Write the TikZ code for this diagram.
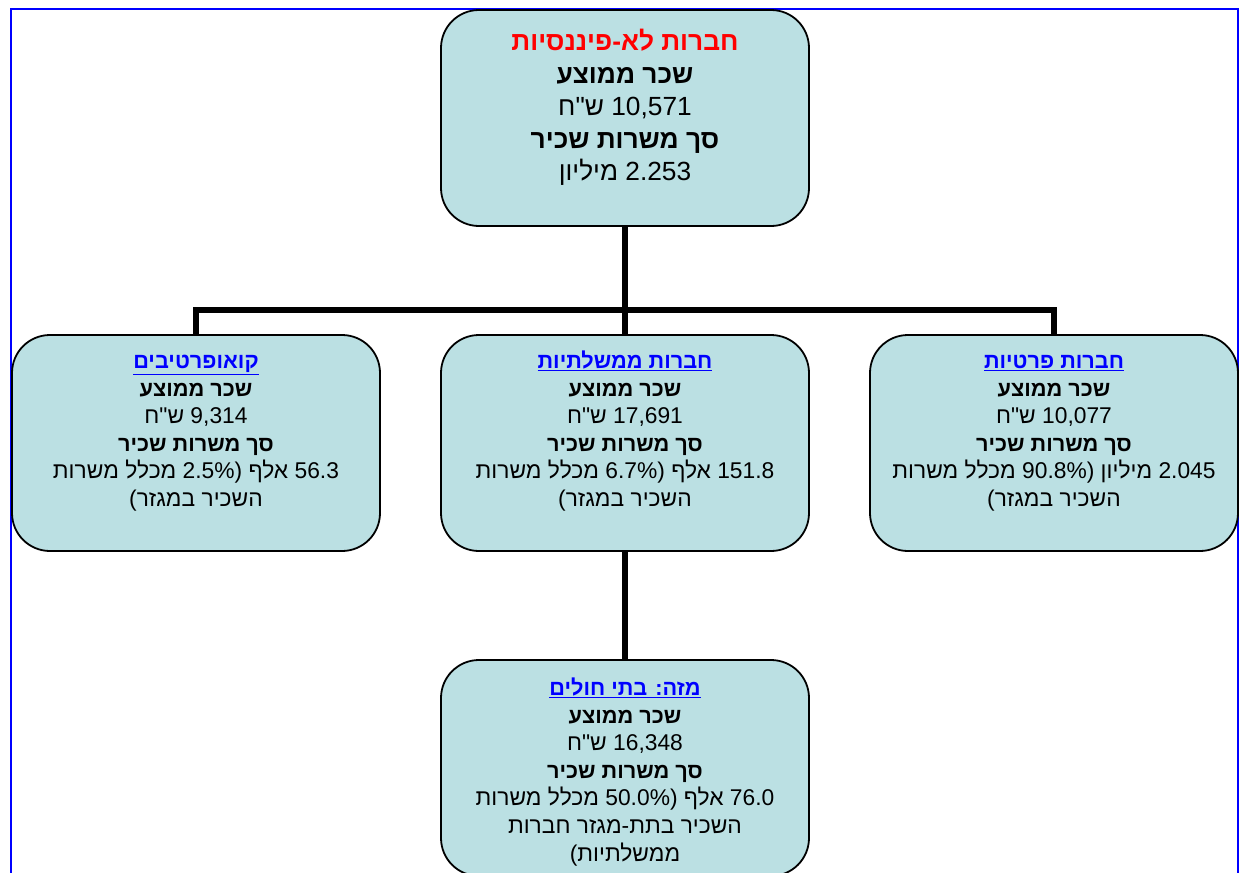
\documentclass[tikz,border=0pt]{standalone}
\usepackage{fontspec}
\setmainfont{Liberation Sans}
\newfontfamily\heb[Script=Hebrew]{Liberation Sans}
\TeXXeTstate=1
\definecolor{boxfill}{HTML}{BBE0E3}
\definecolor{linkblue}{HTML}{0000FF}
\definecolor{titlered}{HTML}{FF0000}
\definecolor{framecol}{HTML}{0000FF}
\tikzset{
  orgbox/.style={draw=black, line width=1.8pt, fill=boxfill, rounded corners=38pt,
    minimum width=368pt, minimum height=216pt, inner sep=0pt, outer sep=0pt},
  conn/.style={draw=black, line width=5.5pt, line join=miter},
  bigtext/.style={anchor=north, inner sep=0pt, align=center, font=\heb\fontsize{26.3}{32.4}\selectfont},
  smalltext/.style={anchor=north, inner sep=0pt, align=center, font=\heb\fontsize{22.8}{27.6}\selectfont},
  frame/.style={draw=framecol, line width=2pt}
}
\newcommand{\rl}[1]{\beginR #1\endR}
\newcommand{\hbold}[1]{{\fontsize{21.7}{27.6}\selectfont\bfseries\beginR #1\endR}}
\newcommand{\lnk}[1]{\strut\textcolor{linkblue}{\underline{\beginR{\fontsize{21.7}{27.6}\selectfont\bfseries #1}\endR}}}
\begin{document}
\begin{tikzpicture}[x=1pt,y=-1pt]
\useasboundingbox (0,0) rectangle (1240,873);
\clip (0,0) rectangle (1240,873);
\fill[white] (0,0) rectangle (1240,873);
% frame
\coordinate (fbl) at (11,900);
\coordinate (ftl) at (11,9);
\coordinate (ftr) at (1238,9);
\coordinate (fbr) at (1238,900);
\draw[frame] (fbl) -- (ftl) -- (ftr) -- (fbr);
% boxes
\node[orgbox] (top) at (625,118) {};
\node[orgbox] (left) at (196,443) {};
\node[orgbox] (mid) at (625,443) {};
\node[orgbox] (right) at (1054,443) {};
\node[orgbox] (bot) at (625,768) {};
% connectors
\coordinate (bus) at (625,310);
\draw[conn] (top.south) -- (mid.north);
\draw[conn] (left.north) -- (left.north |- bus) -- (right.north |- bus) -- (right.north);
\draw[conn] (mid.south) -- (bot.north);
% texts
\node[bigtext] (ttop) at ([yshift=-18pt]top.north) {%
  \strut\textcolor{titlered}{\textbf{\rl{חברות לא-פיננסיות}}}\\
  \textbf{\rl{שכר ממוצע}}\\
  \rl{10,571 ש"ח}\\
  \textbf{\rl{סך משרות שכיר}}\\
  \rl{2.253 מיליון}};
\node[smalltext] (tleft) at ([yshift=-14pt]left.north) {%
  \lnk{קואופרטיבים}\\
  \hbold{שכר ממוצע}\\
  \rl{9,314 ש"ח}\\
  \hbold{סך משרות שכיר}\\
  \rl{56.3 אלף (2.5\% מכלל משרות}\\
  \rl{השכיר במגזר)}};
\node[smalltext] (tmid) at ([yshift=-14pt]mid.north) {%
  \lnk{חברות ממשלתיות}\\
  \hbold{שכר ממוצע}\\
  \rl{17,691 ש"ח}\\
  \hbold{סך משרות שכיר}\\
  \rl{151.8 אלף (6.7\% מכלל משרות}\\
  \rl{השכיר במגזר)}};
\node[smalltext] (tright) at ([yshift=-14pt]right.north) {%
  \lnk{חברות פרטיות}\\
  \hbold{שכר ממוצע}\\
  \rl{10,077 ש"ח}\\
  \hbold{סך משרות שכיר}\\
  \rl{2.045 מיליון (90.8\% מכלל משרות}\\
  \rl{השכיר במגזר)}};
\node[smalltext] (tbot) at ([yshift=-16pt]bot.north) {%
  \lnk{מזה: בתי חולים}\\
  \hbold{שכר ממוצע}\\
  \rl{16,348 ש"ח}\\
  \hbold{סך משרות שכיר}\\
  \rl{76.0 אלף (50.0\% מכלל משרות}\\
  \rl{השכיר בתת-מגזר חברות}\\
  \rl{ממשלתיות)}};
\end{tikzpicture}
\end{document}
